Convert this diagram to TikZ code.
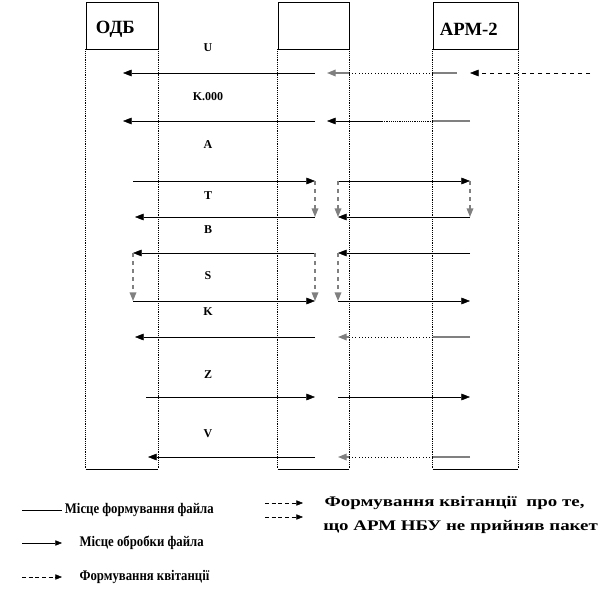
\documentclass[tikz,border=0pt]{standalone}
\usepackage{fontspec}
\setmainfont{Liberation Serif}
\newfontfamily\narrowfont[FakeStretch=0.87]{Liberation Serif}
\newfontfamily\widefont[FakeStretch=1.29]{Liberation Serif}
\usepackage{tikz}
\usetikzlibrary{positioning,calc,arrows.meta}

\begin{document}
\begin{tikzpicture}[x=0.75pt,y=-0.75pt,
    head/.style={draw, inner sep=0pt, minimum height=35.25pt},
    hfont/.style={font=\fontsize{14}{16}\selectfont\bfseries, xshift=-5pt, yshift=-3pt},
    life/.style={densely dotted},
    msg/.style={-{Triangle[length=6.5pt,width=5pt]}},
    turn/.style={msg, gray, dashed, line width=1pt},
    relay/.style={gray, line width=1pt},
    lbl/.style={font=\fontsize{9}{11}\selectfont\bfseries},
    leg/.style={font=\narrowfont\fontsize{11}{13}\selectfont\bfseries, inner sep=0pt},
    legw/.style={font=\widefont\fontsize{11}{13}\selectfont\bfseries, inner sep=0pt},
    legtip/.style={-{Triangle[length=5pt,width=4pt]}},
    legdash/.style={legtip, dash pattern=on 3pt off 2pt}]
    \useasboundingbox (0,0) rectangle (616,602);
    % columns
    \node[head, minimum width=54pt, label={[hfont]center:ОДБ}] (odb) at (122,25.5) {};
    \node[head, minimum width=53.25pt] (mid) at (313.5,25.5) {};
    \node[head, minimum width=63.75pt, label={[hfont]center:АРМ-2}] (arm) at (475.5,25.5) {};
    \coordinate (bot) at (0,469);
    \foreach \c in {odb,mid,arm} {
        \draw[life] (\c.south west) -- (\c.south west |- bot) (\c.south east) -- (\c.south east |- bot);
        \draw (\c.south west |- bot) -- (\c.south east |- bot);
    }
    % message rows
    \foreach \r/\y/\xa/\xc in {1/73/123/327, 2/121/123/327, 3/181/133/338, 4/217/135/338, 5/253/133/338, 6/301/133/338, 7/337/135/338, 8/397/146/338, 9/457/148/338} {
        \coordinate (a\r) at (\xa,\y);
        \coordinate (b\r) at (315,\y);
        \coordinate (c\r) at (\xc,\y);
        \coordinate (d\r) at (470,\y);
    }
    \foreach \t/\y [count=\i] in {U/48, K.000/97, A/145, T/196, B/230, S/276, K/312, Z/375, V/434}
        \node[lbl] (lab\i) at (208,\y) {\t};
    % odb <-> mid
    \draw[msg] (b1) -- (a1);
    \draw[msg] (b2) -- (a2);
    \draw[msg] (a3) -- (b3);
    \draw[msg] (b4) -- (a4);
    \draw[msg] (b5) -- (a5);
    \draw[msg] (a6) -- (b6);
    \draw[msg] (b7) -- (a7);
    \draw[msg] (a8) -- (b8);
    \draw[msg] (b9) -- (a9);
    % mid <-> arm
    \coordinate (in1) at (590,73);
    \coordinate (e1) at (457,73);
    \coordinate (m2) at (383,121);
    \draw[msg, dashed] (in1) -- (d1);
    \draw[relay] (e1) -- (arm.west |- e1);
    \draw[dotted] (arm.west |- e1) -- (mid.east |- e1);
    \draw[relay, msg] (mid.east |- e1) -- (c1);
    \draw[relay] (d2) -- (arm.west |- d2);
    \draw[densely dotted] (arm.west |- d2) -- (m2);
    \draw[msg] (m2) -- (c2);
    \draw[msg] (c3) -- (d3);
    \draw[msg] (d4) -- (c4);
    \draw[msg] (d5) -- (c5);
    \draw[msg] (c6) -- (d6);
    \draw[msg] (c8) -- (d8);
    \foreach \r in {7,9} {
        \draw[relay] (d\r) -- (arm.west |- d\r);
        \draw[dotted] (arm.west |- d\r) -- (mid.east |- d\r);
        \draw[relay, msg] (mid.east |- d\r) -- (c\r);
    }
    % turns
    \draw[turn] (b3) -- (b4);
    \draw[turn] (c3) -- (c4);
    \draw[turn] (d3) -- (d4);
    \draw[turn] (a5) -- (a6);
    \draw[turn] (b5) -- (b6);
    \draw[turn] (c5) -- (c6);
    % legend
    \coordinate (k1) at (22,510);
    \coordinate (k2) at (22,543);
    \coordinate (k3) at (22,577);
    \coordinate (k4) at (265,503);
    \coordinate (k5) at (265,517);
    \draw (k1) -- ++(40,0) node[leg, right=2pt] (leg1) {Місце формування файла};
    \draw[legtip] (k2) -- ++(40,0) node[leg, right=13pt] (leg2) {Місце обробки файла};
    \draw[legdash] (k3) -- ++(40,0) node[leg, right=13pt] (leg3) {Формування квітанції};
    \draw[legdash] (k4) -- ++(38,0) node[legw, right=16pt] (leg4) {Формування квітанції\ \ про те,};
    \draw[legdash] (k5) -- ++(38,0);
    \node[legw, anchor=west] (leg5) at (323,527) {що АРМ НБУ не прийняв пакет};
\end{tikzpicture}
\end{document}
